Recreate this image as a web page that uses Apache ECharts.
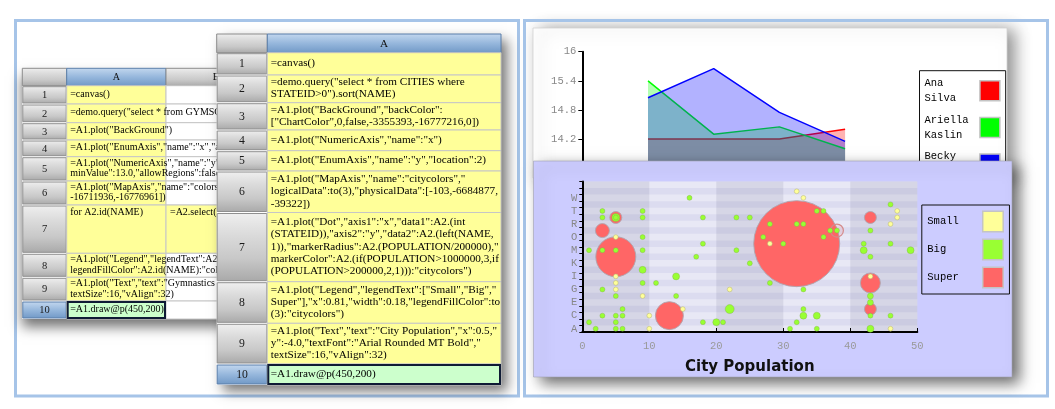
<!DOCTYPE html>
<html><head><meta charset="utf-8">
<script src="https://cdn.jsdelivr.net/npm/echarts@6/dist/echarts.min.js"></script>
<style>html,body{margin:0;padding:0;background:#fff}
.layer{position:absolute;left:0;top:0;width:1055px;height:409px}
#note{position:absolute;left:0;top:0;width:1px;height:1px;overflow:hidden;color:transparent;font-size:1px}</style>
</head><body><div id="back" class="layer"></div><div id="mid" class="layer"></div><div id="front" class="layer"></div><pre id="note"></pre>
<script>
// ================= DATA =================
// Top chart: gymnastics scores (x categories padded with empty ends, as the enum axis leaves gaps)
const gymEvents = ['', '1', '2', '3', '4', ''];
const gymNames = ['Ana Silva', 'Ariella Kaslin', 'Becky Shaw'];
const anaScores = [null, 14.2, 14.2, 14.2, 14.4, null];
const ariellaScores = [null, 15.4, 14.3, 14.45, 14.0, null];
const beckyScores = [null, 15.05, 15.65, 14.75, 14.15, null];
const gymAxis = { min: 13, max: 16, interval: 0.6 };

// Bubble chart: [STATEID, first letter of NAME, marker radius]
const stateLetters = ['A','B','C','D','E','F','G','H','I','J','K','L','M','N','O','P','R','S','T','V','W','Y',''];
const populationTicks = { min: 0, max: 50, interval: 10 };
const legendNames = ['Small', 'Big', 'Super'];
const smallCities = [
  [5,'O',2.4],[5,'I',2.4],[5,'H',2.4],[5,'G',2.4],[9,'F',2.4],[15,'D',2.4],[10,'C',2.4],[10,'A',2.4],
  [22,'G',2.4],[28,'N',2.4],[32,'Y',2.4],[33,'W',2.4],[46,'R',2.4],[47,'T',2.4],[47,'S',2.4],[43,'I',2.4],[46,'A',2.4]
];
const bigCities = [
  [5,'S',4],[9,'J',3.5],[14,'I',3.5],[22,'D',4.5],[20,'B',3.5],[33,'C',3.5],[42,'M',3.5],[49,'M',3.5],
  [35,'C',3.5],[43,'A',3.5],[43,'F',3],[43,'E',3],
  [16,'W',2.5],[3,'T',2.5],[9,'T',2.5],[3,'S',2.5],[9,'S',2.5],[9,'O',2.5],[1,'M',2.5],[3,'M',2.5],
  [5,'M',2.5],[9,'M',2.5],[9,'H',2.5],[11,'H',2.5],[3,'G',2.5],[5,'F',2.5],[14,'F',2.5],[6,'D',2.5],
  [3,'C',2.5],[5,'C',2.5],[6,'C',2.5],[1,'B',2.5],[5,'B',2.5],[2,'A',2.5],[5,'A',2.5],[6,'A',2.5],
  [18,'S',2.5],[23,'S',2.5],[25,'S',2.5],[28,'R',2.5],[32,'R',2.5],[33,'R',2.5],[27,'O',2.5],[18,'N',2.5],
  [30,'N',2.5],[23,'M',2.5],[17,'L',2.5],[25,'K',2.5],[28,'H',2.5],[33,'G',2.5],[33,'D',2.5],[18,'B',2.5],
  [21,'B',2.5],[32,'B',2.5],[31,'A',2.5],[35,'T',2.5],[36,'T',2.5],[37,'P',2.5],[38,'P',2.5],[36,'O',2.5],
  [46,'V',2.5],[43,'P',2.5],[42,'N',2.5],[46,'N',2.5],[43,'L',2.5],[46,'C',2.5],[35,'A',2.5],[43,'C',2.5],[5,'S',2.5]
];
const superCities = [
  [5,'L',20],[32,'N',43],[13,'C',14],[3,'P',7],[5,'S',6],[43,'S',6],[43,'H',10],[43,'D',6]
];
const superOutlined = [[38,'P',6.5]];

// Spreadsheet cell texts
const leftSheetA = [
  '=canvas()',
  '=demo.query("select * from GYMSCORES")',
  '=A1.plot("BackGround")',
  '=A1.plot("EnumAxis","name":"x","allowRegions":false)',
  '=A1.plot("NumericAxis","name":"y","allowLabels":true,"\nminValue":13.0,"allowRegions":false)',
  '=A1.plot("MapAxis","name":"colors","logicalData":A2.id(NAME),"physicalData":[-65536,\n-16711936,-16776961])',
  'for A2.id(NAME)',
  '=A1.plot("Legend","legendText":A2.id(NAME),"\nlegendFillColor":A2.id(NAME):"colors")',
  '=A1.plot("Text","text":"Gymnastics Scores","x":0.5,"\ntextSize":16,"vAlign":32)',
  '=A1.draw@p(450,200)'
];
const leftSheetB7 = '=A2.select(NAME==A7)';
const rightSheetA = [
  '=canvas()',
  '=demo.query("select * from CITIES where\nSTATEID>0").sort(NAME)',
  '=A1.plot("BackGround","backColor":\n["ChartColor",0,false,-3355393,-16777216,0])',
  '=A1.plot("NumericAxis","name":"x")',
  '=A1.plot("EnumAxis","name":"y","location":2)',
  '=A1.plot("MapAxis","name":"citycolors","\nlogicalData":to(3),"physicalData":[-103,-6684877,\n-39322])',
  '=A1.plot("Dot","axis1":"x","data1":A2.(int\n(STATEID)),"axis2":"y","data2":A2.(left(NAME,\n1)),"markerRadius":A2.(POPULATION/200000),"\nmarkerColor":A2.(if(POPULATION>1000000,3,if\n(POPULATION>200000,2,1))):"citycolors")',
  '=A1.plot("Legend","legendText":["Small","Big","\nSuper"],"x":0.81,"width":0.18,"legendFillColor":to\n(3):"citycolors")',
  '=A1.plot("Text","text":"City Population","x":0.5,"\ny":-4.0,"textFont":"Arial Rounded MT Bold","\ntextSize":16,"vAlign":32)',
  '=A1.draw@p(450,200)'
];

// ================= HELPERS =================
function rect(arr, x, y, w, h, style, z) { arr.push({ type: 'rect', shape: { x, y, width: w, height: h }, style, z: z == null ? -1 : z, silent: true }); }
function text(arr, x, y, t, o, z) {
  arr.push({ type: 'text', z: z == null ? -1 : z, silent: true,
    style: Object.assign({ text: t, x, y, fill: '#000', align: 'left', verticalAlign: 'middle', textAlign: 'left', textVerticalAlign: 'middle' }, o) });
}
const lg = (stops) => new echarts.graphic.LinearGradient(0, 0, 0, 1, stops.map((c, i) => ({ offset: i / (stops.length - 1), color: c })));
const greyHdr = () => lg(['#efefef', '#dadada', '#c8c8c8', '#a9a9a9']);
const blueHdr = () => lg(['#c4d8ef', '#96b7dc', '#7098c6']);
const pad8 = (name) => name.split(' ').map(s => (s + '        ').slice(0, 8)).join('\n');
const monoAxisLabel = { fontFamily: 'Liberation Mono', fontSize: 10.5 };
const gymGrid = { left: 582.3, top: 51.7, width: 328.5, height: 145.5, outerBoundsMode: 'none' };

// ================= BACK LAYER: white panel + axes of the gymnastics chart =================
const GB = [];
rect(GB, 533, 28, 474, 150, { fill: '#fff', stroke: 'rgba(210,210,210,0.8)', lineWidth: 1, shadowBlur: 16, shadowColor: 'rgba(0,0,0,0.45)', shadowOffsetX: 7, shadowOffsetY: 2 });
const backOption = {
  animation: false,
  backgroundColor: '#fff',
  graphic: GB,
  grid: gymGrid,
  xAxis: { type: 'category', data: gymEvents, boundaryGap: false,
    axisLine: { show: false }, axisTick: { show: false }, axisLabel: { show: false }, splitLine: { show: false } },
  yAxis: { type: 'value', min: gymAxis.min, max: gymAxis.max, interval: gymAxis.interval, z: 2,
    axisLine: { show: true, onZero: false, lineStyle: { color: '#000', width: 2 } },
    axisTick: { show: true, length: 4, lineStyle: { color: '#000', width: 1 } },
    axisLabel: Object.assign({ color: '#888', margin: 6 }, monoAxisLabel),
    splitLine: { show: false } },
  series: []
};

// ================= MID LAYER: gymnastics areas + legend =================
const gymColors = ['#ff0000', '#00ff00', '#0000ff'];
const gymSeries = [anaScores, ariellaScores, beckyScores].map((d, i) => ({
  type: 'line', name: gymNames[i], data: d, symbol: 'none', z: 1 + i * 0.3,
  connectNulls: false, silent: true,
  lineStyle: { color: gymColors[i], width: 1.5 }, itemStyle: { color: gymColors[i] },
  areaStyle: { color: gymColors[i], opacity: 0.3, origin: 'start' }
}));
// the value-axis line sits on the first (empty) category of the x axis
gymSeries[0].markLine = {
  silent: true, symbol: ['none', 'none'], animation: false, label: { show: false },
  lineStyle: { color: '#000', width: 2, type: 'solid' }, emphasis: { disabled: true },
  data: [{ xAxis: 0 }]
};
const midOption = {
  animation: false,
  backgroundColor: 'transparent',
  grid: gymGrid,
  xAxis: { type: 'category', data: gymEvents, boundaryGap: false, show: false },
  yAxis: { type: 'value', min: gymAxis.min, max: gymAxis.max, interval: gymAxis.interval, show: false },
  legend: { data: gymNames, orient: 'vertical', left: 919.5, top: 70.7, align: 'right', icon: 'rect', selectedMode: false,
    itemWidth: 20, itemHeight: 20, itemGap: 6.7, padding: 5, borderColor: '#111', borderWidth: 1,
    formatter: pad8, itemStyle: { borderColor: '#c4c4c4', borderWidth: 1.5 },
    textStyle: { fontFamily: 'Liberation Mono', fontSize: 10.5, lineHeight: 15, color: '#000' } },
  series: gymSeries
};

// ================= FRONT LAYER: frames, spreadsheets, bubble chart =================
const GF = [];
rect(GF, 15.5, 20.5, 503, 375.5, { fill: 'none', stroke: '#a6c4e8', lineWidth: 3 });
rect(GF, 524.5, 20.5, 523, 375.5, { fill: 'none', stroke: '#a6c4e8', lineWidth: 3 });

function drawSheet(g, textsA, fs, lh, opts) {
  const { x0, xh, colR, yh, rows } = g;
  const right = colR[colR.length - 1], bottom = rows[rows.length - 1];
  rect(GF, x0, yh, right - x0, bottom - yh, { fill: '#fff', shadowBlur: opts.sb, shadowColor: 'rgba(0,0,0,0.55)', shadowOffsetX: opts.sx, shadowOffsetY: opts.sy });
  rect(GF, x0, yh, xh - x0, rows[0] - yh, { fill: greyHdr(), stroke: '#8c8c8c', lineWidth: 1 });
  let cl = xh;
  colR.forEach((cr, j) => {
    rect(GF, cl, yh, cr - cl, rows[0] - yh, { fill: j === 0 ? blueHdr() : greyHdr(), stroke: j === 0 ? '#5b7fab' : '#8c8c8c', lineWidth: 1 });
    text(GF, (cl + cr) / 2, (yh + rows[0]) / 2 + 0.5, String.fromCharCode(65 + j), { fontSize: fs, fontFamily: 'Liberation Serif', align: 'center', textAlign: 'center', fill: '#111' });
    cl = cr;
  });
  const n = rows.length - 1;
  for (let i = 1; i <= n; i++) {
    const y0 = rows[i - 1], y1 = rows[i], sel = i === n;
    rect(GF, x0 + 0.5, y0 + 1, xh - x0 - 1, y1 - y0 - 2, { fill: sel ? blueHdr() : greyHdr(), stroke: sel ? '#5b7fab' : '#8f8f8f', lineWidth: 1 });
    text(GF, (x0 + xh) / 2, (y0 + y1) / 2 + 0.5, String(i), { fontSize: fs + 0.5, fontFamily: 'Liberation Serif', align: 'center', textAlign: 'center', fill: '#1a1a1a' });
    rect(GF, xh, y0, colR[0] - xh, y1 - y0, { fill: sel ? '#ccffcc' : '#ffff99', stroke: '#c6c6c6', lineWidth: 1 });
    if (colR.length > 1) rect(GF, colR[0], y0, colR[1] - colR[0], y1 - y0, { fill: (i === 7 && opts.b7) ? '#ffff99' : '#fff', stroke: '#c6c6c6', lineWidth: 1 });
  }
  for (let i = 1; i <= n; i++) {
    const y0 = rows[i - 1], y1 = rows[i];
    const top = opts.topRow === i;
    text(GF, xh + 3.5, top ? y0 + 2 : (y0 + y1) / 2 - 0.5, textsA[i - 1],
      { fontSize: fs, fontFamily: 'Liberation Serif', lineHeight: lh, fill: '#000', verticalAlign: top ? 'top' : 'middle', textVerticalAlign: top ? 'top' : 'middle' });
  }
  if (opts.b7) text(GF, colR[0] + 4, rows[6] + 2, opts.b7, { fontSize: fs, fontFamily: 'Liberation Serif', lineHeight: lh, verticalAlign: 'top', textVerticalAlign: 'top' });
  rect(GF, xh + 1, rows[n - 1] + 1, colR[0] - xh - 2, rows[n] - rows[n - 1] - 2, { fill: 'none', stroke: '#0f1b35', lineWidth: 2 });
}
drawSheet({ x0: 22.3, xh: 66.7, colR: [166, 266], yh: 68.3, rows: [85.7, 104, 122.7, 140, 156.7, 181, 205, 253.3, 277.3, 301, 319] },
  leftSheetA, 10, 10.7, { sb: 12, sx: 0, sy: 8, topRow: 7, b7: leftSheetB7 });
drawSheet({ x0: 216.7, xh: 267.3, colR: [501], yh: 34, rows: [52.7, 75, 102.7, 130, 150.7, 171, 212.5, 281.7, 323.3, 364, 385] },
  rightSheetA, 11.2, 12.4, { sb: 12, sx: 6, sy: 6 });
// bubble chart panel
rect(GF, 533.5, 161, 478.5, 216, { fill: '#ccccff', stroke: 'rgba(160,160,175,0.6)', lineWidth: 1, shadowBlur: 14, shadowColor: 'rgba(0,0,0,0.6)', shadowOffsetX: 7, shadowOffsetY: 6 }, 0);

const bubbleSize = (v) => v[2] * 2;
const frontOption = {
  animation: false,
  backgroundColor: 'transparent',
  graphic: GF,
  grid: { left: 582.3, top: 181.5, width: 335, height: 150.5, show: true, backgroundColor: '#dcdcf0', borderWidth: 0, z: 1, outerBoundsMode: 'none' },
  xAxis: { type: 'value', min: populationTicks.min, max: populationTicks.max, interval: populationTicks.interval, z: 1,
    axisLine: { show: true, onZero: false, lineStyle: { color: '#000', width: 2 } },
    axisTick: { show: true, inside: true, length: 4, lineStyle: { color: '#000' } },
    axisLabel: Object.assign({ color: '#999', margin: 9 }, monoAxisLabel),
    splitLine: { show: false },
    splitArea: { show: true, areaStyle: { color: ['rgba(70,70,110,0.11)', 'rgba(255,255,255,0)'] } },
    name: 'City Population', nameLocation: 'middle', nameGap: 28,
    nameTextStyle: { fontFamily: 'DejaVu Sans', fontWeight: 'bold', fontSize: 15, color: '#111' } },
  yAxis: { type: 'category', data: stateLetters, boundaryGap: true, z: 1,
    axisLine: { show: true, onZero: false, lineStyle: { color: '#000', width: 2 } },
    axisTick: { show: true, interval: 0, length: 3, lineStyle: { color: '#000' } },
    axisLabel: Object.assign({ interval: 1, color: '#888', margin: 5 }, monoAxisLabel),
    splitLine: { show: false },
    splitArea: { show: true, interval: 0, areaStyle: { color: ['rgba(255,255,255,0.36)', 'rgba(255,255,255,0)'] } } },
  legend: { data: legendNames, orient: 'vertical', left: 921.8, top: 205, align: 'right', icon: 'rect', selectedMode: false,
    itemWidth: 20.5, itemHeight: 20.5, itemGap: 6, padding: 5.5, borderColor: '#111', borderWidth: 1, z: 8,
    formatter: pad8, itemStyle: { borderColor: '#c4c4c4', borderWidth: 1.5 },
    textStyle: { fontFamily: 'Liberation Mono', fontSize: 10.5, color: '#000' } },
  series: [
    { type: 'scatter', name: 'Super', data: superCities, symbolSize: bubbleSize, z: 5, silent: true,
      itemStyle: { color: '#ff6666', borderColor: 'rgba(175,165,175,0.9)', borderWidth: 1, opacity: 1 } },
    { type: 'scatter', name: 'Super outline', data: superOutlined, symbolSize: bubbleSize, z: 5, silent: true,
      itemStyle: { color: 'rgba(255,102,102,0.12)', borderColor: '#d48a8a', borderWidth: 1.2, opacity: 1 } },
    { type: 'scatter', name: 'Big', data: bigCities, symbolSize: bubbleSize, z: 6, silent: true,
      itemStyle: { color: '#99ff33', borderColor: 'rgba(120,160,70,0.55)', borderWidth: 0.6, opacity: 1 } },
    { type: 'scatter', name: 'Small', data: smallCities, symbolSize: bubbleSize, z: 7, silent: true,
      itemStyle: { color: '#ffff99', borderColor: 'rgba(185,185,120,0.9)', borderWidth: 0.6, opacity: 1 } }
  ]
};

const opts = { renderer: 'canvas', width: 1055, height: 409 };
const charts = [
  echarts.init(document.getElementById('back'), null, opts),
  echarts.init(document.getElementById('mid'), null, opts),
  echarts.init(document.getElementById('front'), null, opts)
];
charts[0].setOption(backOption);
charts[1].setOption(midOption);
charts[2].setOption(frontOption);
// settle pass: refresh every layer once more after the first frame
setTimeout(() => {
  let n = 0;
  charts.forEach(c => { const zr = c.getZr(); n += zr.storage.getDisplayList(true).length; zr.refreshImmediately(); });
  document.getElementById('note').textContent = String(n);
}, 200);
</script>
</body></html>
